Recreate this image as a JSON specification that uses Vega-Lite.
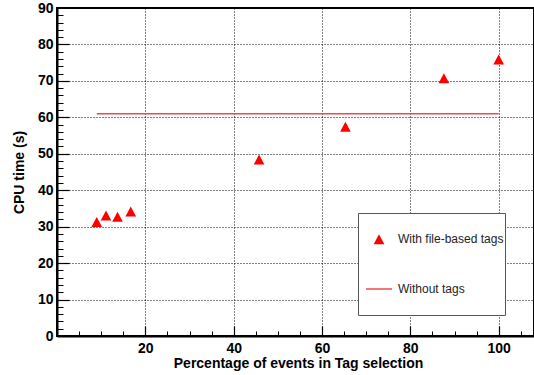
{
  "$schema": "https://vega.github.io/schema/vega-lite/v6.json",
  "autosize": "none",
  "padding": {"left": 57, "top": 8, "right": 0, "bottom": 39},
  "width": 477,
  "height": 328,
  "background": "white",
  "config": {
    "view": {"stroke": "#000", "strokeWidth": 2},
    "font": "Liberation Sans",
    "axis": {"labelFont": "Liberation Sans", "labelFontWeight": "bold", "labelFontSize": 14, "labelColor": "#000",
      "titleFont": "Liberation Sans", "titleFontWeight": "bold", "titleFontSize": 14, "titleColor": "#000",
      "domainColor": "#000", "domainWidth": 2,
      "gridColor": "#000", "gridDash": [1, 2], "gridWidth": 1, "gridOpacity": 1}
  },
  "data": {
    "values": [
      {"pct": 9.0, "cpu": 31.35, "series": "With file-based tags"},
      {"pct": 11.1, "cpu": 33.1, "series": "With file-based tags"},
      {"pct": 13.7, "cpu": 32.75, "series": "With file-based tags"},
      {"pct": 16.7, "cpu": 34.2, "series": "With file-based tags"},
      {"pct": 45.75, "cpu": 48.5, "series": "With file-based tags"},
      {"pct": 65.3, "cpu": 57.5, "series": "With file-based tags"},
      {"pct": 87.6, "cpu": 70.8, "series": "With file-based tags"},
      {"pct": 100.0, "cpu": 75.9, "series": "With file-based tags"},
      {"pct": 9.0, "cpu": 61.0, "series": "Without tags"},
      {"pct": 100.0, "cpu": 61.0, "series": "Without tags"}
    ]
  },
  "resolve": {"axis": {"x": "independent", "y": "independent"}},
  "layer": [
    {
      "transform": [{"filter": "datum.series === 'Without tags'"}],
      "mark": {"type": "line", "strokeWidth": 1.5, "color": "#f04848"},
      "encoding": {
        "x": {"field": "pct", "type": "quantitative", "scale": {"domain": [0, 108], "nice": false},
          "axis": {"orient": "top", "offset": -328, "zindex": 2,
            "values": [5, 10, 15, 25, 30, 35, 45, 50, 55, 65, 70, 75, 85, 90, 95, 105],
            "ticks": true, "tickSize": 5, "tickColor": "#000", "tickWidth": 1, "tickOpacity": 1,
            "labels": false, "grid": false, "domain": false, "title": null}},
        "y": {"field": "cpu", "type": "quantitative", "scale": {"domain": [0, 90], "nice": false},
          "axis": {"orient": "right", "offset": -477, "zindex": 2,
            "values": [2, 4, 6, 8, 12, 14, 16, 18, 22, 24, 26, 28, 32, 34, 36, 38, 42, 44, 46, 48, 52, 54, 56, 58, 62, 64, 66, 68, 72, 74, 76, 78, 82, 84, 86, 88],
            "ticks": true, "tickSize": 6, "tickColor": "#000", "tickWidth": 1, "tickOpacity": 1,
            "labels": false, "grid": false, "domain": false, "title": null}}
      }
    },
    {
      "transform": [{"filter": "datum.series === 'Without tags'"}],
      "mark": {"type": "line", "strokeWidth": 1.5, "color": "#f04848", "opacity": 0},
      "encoding": {
        "x": {"field": "pct", "type": "quantitative", "scale": {"domain": [0, 108], "nice": false},
          "axis": {"orient": "top", "offset": -328, "zindex": 2,
            "values": [20, 40, 60, 80, 100],
            "ticks": true, "tickSize": 10, "tickColor": "#000", "tickWidth": 1.2, "tickOpacity": 1,
            "labels": false, "grid": false, "domain": false, "title": null}},
        "y": {"field": "cpu", "type": "quantitative", "scale": {"domain": [0, 90], "nice": false},
          "axis": {"orient": "right", "offset": -477, "zindex": 2,
            "values": [10, 20, 30, 40, 50, 60, 70, 80],
            "ticks": true, "tickSize": 12, "tickColor": "#000", "tickWidth": 1.2, "tickOpacity": 1,
            "labels": false, "grid": false, "domain": false, "title": null}}
      }
    },
    {
      "transform": [{"filter": "datum.series === 'With file-based tags'"}],
      "mark": {"type": "point", "filled": true, "opacity": 1, "size": 676},
      "encoding": {
        "x": {"field": "pct", "type": "quantitative", "scale": {"domain": [0, 108], "nice": false},
          "axis": {
            "orient": "bottom",
            "values": [20, 40, 60, 80, 100],
            "ticks": false, "labelPadding": 5, "labelFlush": false, "labelOverlap": false,
            "grid": true,
            "title": "Percentage of events in Tag selection",
            "titleAnchor": "start", "titleAlign": "center", "titleBaseline": "alphabetic",
            "titleX": 241, "titleY": 31
          }},
        "y": {
          "field": "cpu", "type": "quantitative", "scale": {"domain": [0, 90], "nice": false},
          "axis": {
            "orient": "left",
            "values": [0, 10, 20, 30, 40, 50, 60, 70, 80, 90],
            "ticks": false, "labelPadding": 4, "labelFlush": false, "labelOverlap": false,
            "grid": true,
            "gridOpacity": {"condition": {"test": "datum.value > 0 && datum.value < 90", "value": 1}, "value": 0},
            "title": "CPU time (s)",
            "titleAngle": 270, "titleAnchor": "start", "titleAlign": "center", "titleBaseline": "middle",
            "titleX": -38, "titleY": 164
          }},
        "shape": {"field": "series", "type": "nominal",
          "scale": {"domain": ["With file-based tags", "Without tags"],
            "range": ["M0,-0.37L-0.41,0.4L0.41,0.4Z", "M-1,-0.055L1,-0.055L1,0.055L-1,0.055Z"]},
          "legend": {
            "orient": "none", "legendX": 301, "legendY": 205,
            "title": null, "direction": "vertical",
            "strokeColor": "#555", "fillColor": "white", "padding": 1,
            "clipHeight": 50, "rowPadding": 0,
            "symbolSize": 676, "symbolOffset": 6, "labelOffset": 5, "symbolOpacity": 1,
            "labelFont": "Liberation Sans", "labelFontSize": 12, "labelColor": "#222"
          }},
        "color": {"field": "series", "type": "nominal",
          "scale": {"domain": ["With file-based tags", "Without tags"], "range": ["#ff0000", "#f04848"]},
          "legend": {
            "orient": "none", "legendX": 301, "legendY": 205,
            "title": null, "direction": "vertical",
            "strokeColor": "#555", "fillColor": "white", "padding": 1,
            "clipHeight": 50, "rowPadding": 0,
            "symbolSize": 676, "symbolOffset": 6, "labelOffset": 5, "symbolOpacity": 1,
            "labelFont": "Liberation Sans", "labelFontSize": 12, "labelColor": "#222"
          }}
      }
    }
  ]
}
